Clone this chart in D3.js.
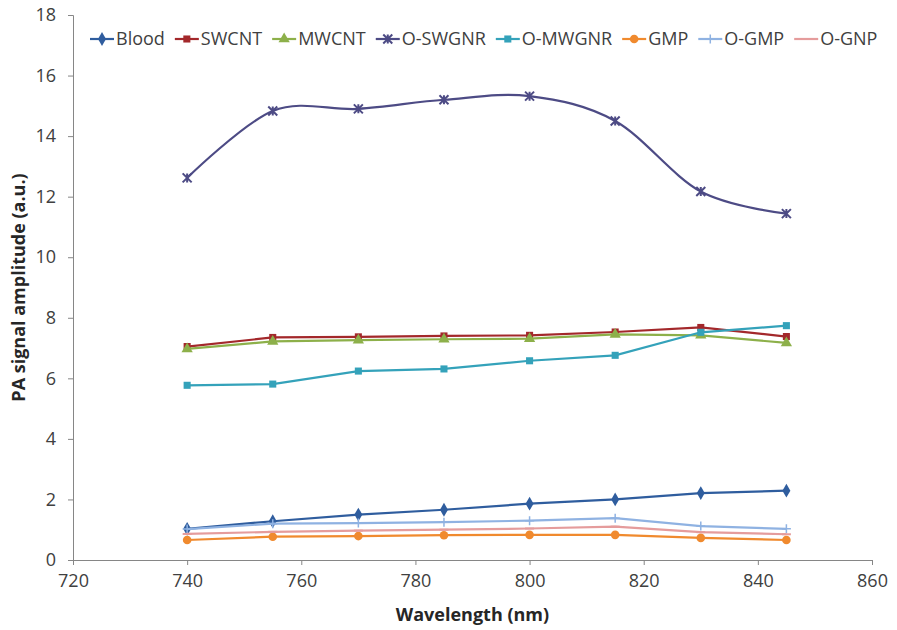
<!DOCTYPE html>
<html>
<head>
<meta charset="utf-8">
<script src="https://cdn.jsdelivr.net/npm/d3@7"></script>
<style>
  body { margin: 0; background: #fff; }
  text { font-family: "Open Sans", sans-serif; }
</style>
</head>
<body>
<div id="chart"></div>
<script>

// DATA
var wavelengths = [740, 755, 770, 785, 800, 815, 830, 845]

var blood  = [1.03, 1.28, 1.50, 1.66, 1.86, 2.00, 2.21, 2.29]
var swcnt  = [7.05, 7.35, 7.37, 7.40, 7.42, 7.53, 7.68, 7.38]
var mwcnt  = [6.97, 7.22, 7.26, 7.29, 7.31, 7.45, 7.42, 7.17]
var oswgnr = [12.62, 14.83, 14.90, 15.20, 15.32, 14.50, 12.17, 11.44]
var omwgnr = [5.77, 5.81, 6.24, 6.31, 6.58, 6.76, 7.52, 7.74]
var gmp    = [0.66, 0.77, 0.79, 0.82, 0.83, 0.83, 0.73, 0.66]
var ogmp   = [1.02, 1.20, 1.22, 1.25, 1.30, 1.38, 1.12, 1.03]
var ognp   = [0.86, 0.93, 0.97, 1.00, 1.04, 1.10, 0.92, 0.85]

var seriesNames = ["Blood", "SWCNT", "MWCNT", "O-SWGNR", "O-MWGNR", "GMP", "O-GMP", "O-GNP"]
var seriesValues = [blood, swcnt, mwcnt, oswgnr, omwgnr, gmp, ogmp, ognp]

var xTicks = [720, 740, 760, 780, 800, 820, 840, 860]
var yTicks = [0, 2, 4, 6, 8, 10, 12, 14, 16, 18]

// styles per series
var colors  = ["#2f5d9e", "#a3282b", "#8db04a", "#4d4b85", "#34a2ba", "#f08a2e", "#8fb2e2", "#e59c9c"]
var markers = ["diamond", "square", "triangle", "star", "square", "circle", "plus", "dash"]

// SET DIMENSIONS FOR SVG
var margin = {top: 15, right: 25, bottom: 70, left: 73},
    width = 897 - margin.left - margin.right,
    height = 630 - margin.top - margin.bottom;

var svg = d3.select("#chart").append("svg")
    .attr("width", 897)
    .attr("height", 630)

var g = svg.append("g")
    .attr("transform", "translate(" + margin.left + "," + margin.top + ")")

// SCALES
var scaleX = d3.scaleLinear()
    .domain([720, 860])
    .range([0, width])

var scaleY = d3.scaleLinear()
    .domain([0, 18])
    .range([height, 0])

/*
  AXES
*/
var yAxis = g.append("g")
    .call(d3.axisLeft(scaleY).tickValues(yTicks).tickSize(5).tickPadding(12))
yAxis.selectAll("text").style("font-size", "18px").attr("fill", "#404040")
yAxis.selectAll("line, path").attr("stroke", "#868686")

var xAxis = g.append("g")
    .attr("transform", "translate(0," + height + ")")
    .call(d3.axisBottom(scaleX).tickValues(xTicks).tickSize(5).tickPadding(9))
xAxis.selectAll("text").style("font-size", "18px").attr("fill", "#404040")
xAxis.selectAll("line, path").attr("stroke", "#868686")

// axis titles
svg.append("text")
    .attr("x", margin.left + width / 2)
    .attr("y", 621)
    .attr("text-anchor", "middle")
    .style("font-size", "18px")
    .style("font-weight", "bold")
    .attr("fill", "#262626")
    .text("Wavelength (nm)")

svg.append("text")
    .attr("transform", "translate(25," + (margin.top + height / 2) + ") rotate(-90)")
    .attr("text-anchor", "middle")
    .style("font-size", "18px")
    .style("font-weight", "bold")
    .attr("fill", "#262626")
    .text("PA signal amplitude (a.u.)")

/*
  MARKERS
*/
function drawMarker(sel, type, color) {
  var s = 4.5
  if (type == "diamond") {
    sel.append("path").attr("d", d3.symbol(d3.symbolDiamond, 55)()).attr("fill", color)
  } else if (type == "square") {
    sel.append("path").attr("d", d3.symbol(d3.symbolSquare, 50)()).attr("fill", color)
  } else if (type == "triangle") {
    sel.append("path").attr("d", d3.symbol(d3.symbolTriangle, 55)()).attr("fill", color)
  } else if (type == "circle") {
    sel.append("path").attr("d", d3.symbol(d3.symbolCircle, 58)()).attr("fill", color)
  } else if (type == "star") {
    sel.append("path")
      .attr("d", "M" + -s + "," + -s + "L" + s + "," + s + "M" + -s + "," + s + "L" + s + "," + -s + "M0," + -s + "L0," + s)
      .attr("stroke", color).attr("stroke-width", 2).attr("fill", "none")
  } else if (type == "plus") {
    sel.append("path")
      .attr("d", "M" + -s + ",0L" + s + ",0M0," + -s + "L0," + s)
      .attr("stroke", color).attr("stroke-width", 1.5).attr("fill", "none")
  } else if (type == "dash") {
    sel.append("path")
      .attr("d", "M" + -s + ",0L" + s + ",0")
      .attr("stroke", color).attr("stroke-width", 2).attr("fill", "none")
  }
}

/*
  LINES + POINTS
*/
seriesValues.forEach(function(vals, i) {
  var pts = wavelengths.map(function(w, j) { return [w, vals[j]] })

  var line = d3.line()
      .x(function(d) { return scaleX(d[0]) })
      .y(function(d) { return scaleY(d[1]) })
      .curve(seriesNames[i] == "O-SWGNR" ? d3.curveCardinal : d3.curveLinear)

  g.append("path")
      .datum(pts)
      .attr("d", line)
      .attr("fill", "none")
      .attr("stroke", colors[i])
      .attr("stroke-width", 2.2)

  g.selectAll(".pt" + i)
      .data(pts)
      .enter()
      .append("g")
      .attr("class", "pt" + i)
      .attr("transform", function(d) { return "translate(" + scaleX(d[0]) + "," + scaleY(d[1]) + ")" })
      .each(function() { drawMarker(d3.select(this), markers[i], colors[i]) })
})

/*
  LEGEND
*/
var legend = svg.append("g").attr("transform", "translate(0,39)")
var lx = 90
seriesNames.forEach(function(name, i) {
  var item = legend.append("g").attr("transform", "translate(" + lx + ",0)")
  item.append("line")
      .attr("x1", 0).attr("x2", 24)
      .attr("stroke", colors[i]).attr("stroke-width", 2.2)
  var m = item.append("g").attr("transform", "translate(12,0)")
  drawMarker(m, markers[i], colors[i])
  var t = item.append("text")
      .attr("x", 26)
      .attr("dy", "0.35em")
      .style("font-size", "18px")
      .attr("fill", "#404040")
      .text(name)
  lx += 26 + t.node().getComputedTextLength() + 10
})

</script>
</body>
</html>
